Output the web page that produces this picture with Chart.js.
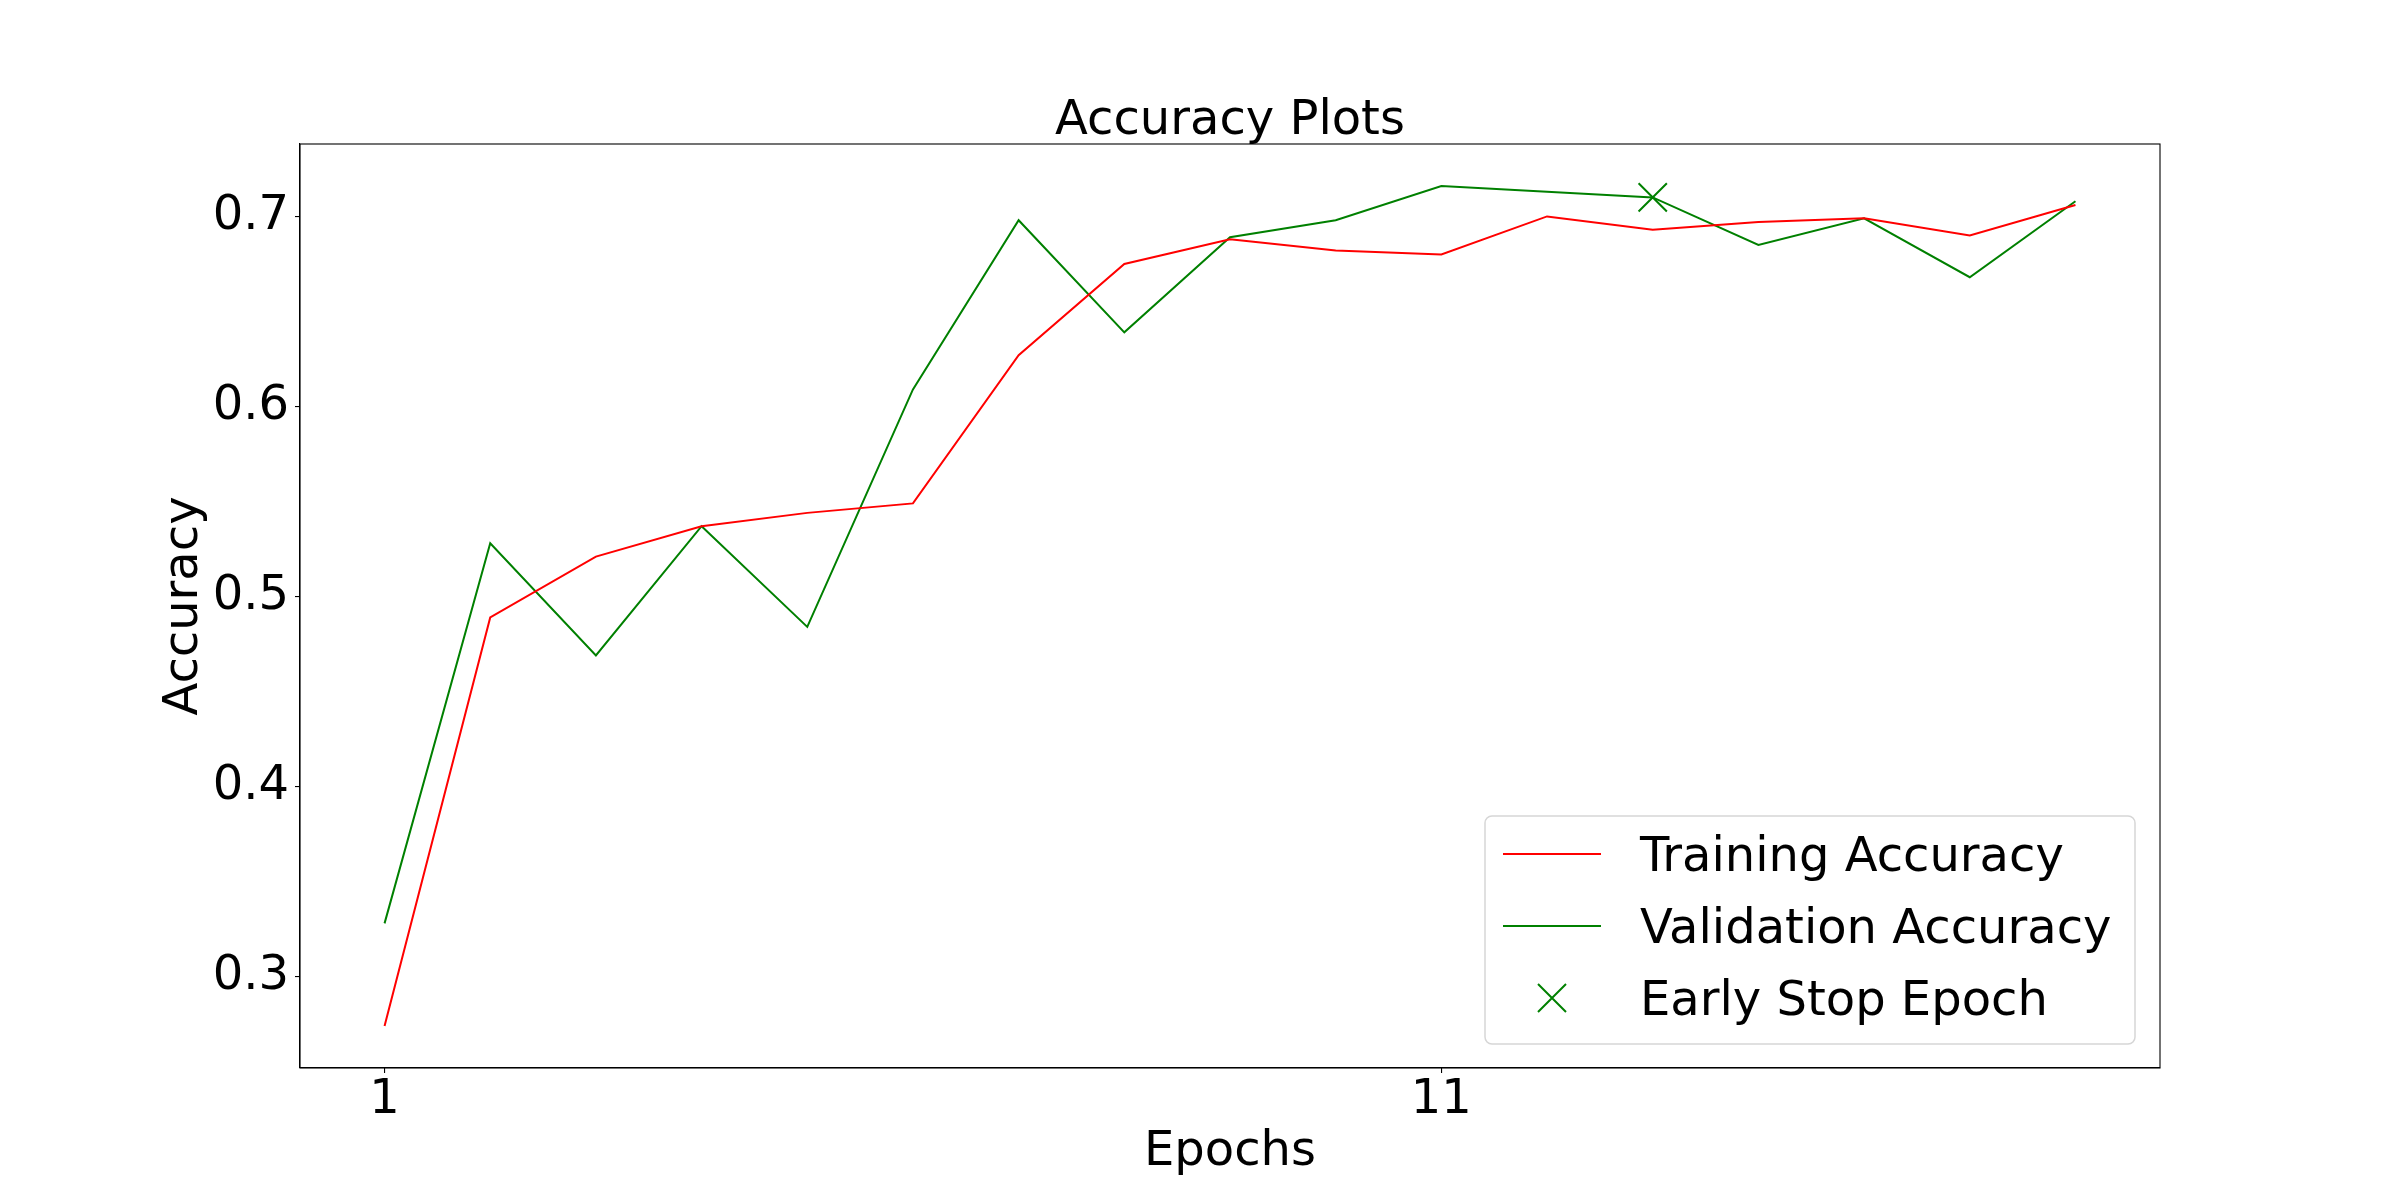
<!DOCTYPE html>
<html>
<head>
<meta charset="utf-8">
<script src="https://cdn.jsdelivr.net/npm/chart.js@4.4.0/dist/chart.umd.min.js"></script>
<style>
  html, body { margin: 0; padding: 0; background: #fff; }
  #wrap { width: 2400px; height: 1200px; }
</style>
</head>
<body>
<div id="wrap"><canvas id="accChart" width="2400" height="1200"></canvas></div>
<script>
// epochs and the two accuracy curves
const epochs = [1, 2, 3, 4, 5, 6, 7, 8, 9, 10, 11, 12, 13, 14, 15, 16, 17];
const trainAcc = [0.274, 0.489, 0.521, 0.537, 0.544, 0.549, 0.627, 0.675, 0.688, 0.682, 0.680, 0.700, 0.693, 0.697, 0.699, 0.690, 0.706];
const valAcc = [0.328, 0.528, 0.469, 0.537, 0.484, 0.609, 0.698, 0.639, 0.689, 0.698, 0.716, 0.713, 0.710, 0.685, 0.699, 0.668, 0.708];
const earlyStopEpoch = 13;
const xTicks = [1, 11];
const yTicks = [0.3, 0.4, 0.5, 0.6, 0.7];

const FONT = 'DejaVu Sans';
Chart.defaults.font.family = FONT;
Chart.defaults.color = '#000';

// matplotlib style 5% margins around the data
const allY = trainAcc.concat(valAcc);
const yLo = Math.min(...allY), yHi = Math.max(...allY);
const yPad = (yHi - yLo) * 0.05;
const xPad = (epochs[epochs.length - 1] - epochs[0]) * 0.05;

const toXY = arr => epochs.map((e, i) => ({ x: e, y: arr[i] }));
const stopIdx = epochs.indexOf(earlyStopEpoch);

// frame around the plot area
const framePlugin = {
  id: 'frame',
  afterDatasetsDraw(chart) {
    const { ctx, chartArea: a } = chart;
    ctx.save();
    ctx.strokeStyle = '#000';
    ctx.lineWidth = 1.1;
    ctx.strokeRect(a.left, a.top, a.right - a.left, a.bottom - a.top);
    ctx.restore();
  }
};

// legend box in the lower right corner, like matplotlib's
const boxLegend = {
  id: 'boxLegend',
  afterDraw(chart) {
    const { ctx, chartArea: a } = chart;
    const w = 650, h = 228;
    const x0 = a.right - 25 - w, y0 = a.bottom - 24 - h;
    ctx.save();
    ctx.beginPath();
    ctx.roundRect(x0, y0, w, h, 7);
    ctx.fillStyle = 'rgba(255,255,255,0.8)';
    ctx.fill();
    ctx.strokeStyle = '#d6d6d6';
    ctx.lineWidth = 1.5;
    ctx.stroke();
    ctx.font = '48px "' + FONT + '"';
    ctx.textBaseline = 'middle';
    ctx.fillStyle = '#000';
    chart.data.datasets.forEach((ds, i) => {
      const cy = y0 + 38 + i * 72;
      ctx.strokeStyle = ds.borderColor;
      ctx.lineWidth = 2;
      ctx.beginPath();
      if (ds.showLine === false) {
        const cx = x0 + 67, r = 14;
        ctx.moveTo(cx - r, cy - r); ctx.lineTo(cx + r, cy + r);
        ctx.moveTo(cx - r, cy + r); ctx.lineTo(cx + r, cy - r);
      } else {
        ctx.moveTo(x0 + 18, cy); ctx.lineTo(x0 + 116, cy);
      }
      ctx.stroke();
      ctx.fillText(ds.label, x0 + 155, cy + 5);
    });
    ctx.restore();
  }
};

new Chart(document.getElementById('accChart'), {
  type: 'line',
  data: {
    datasets: [
      {
        label: 'Training Accuracy',
        data: toXY(trainAcc),
        borderColor: '#ff0000',
        borderWidth: 2,
        pointRadius: 0,
        tension: 0
      },
      {
        label: 'Validation Accuracy',
        data: toXY(valAcc),
        borderColor: '#008000',
        borderWidth: 2,
        pointRadius: 0,
        tension: 0
      },
      {
        label: 'Early Stop Epoch',
        data: [{ x: earlyStopEpoch, y: valAcc[stopIdx] }],
        showLine: false,
        borderColor: '#008000',
        backgroundColor: '#008000',
        borderWidth: 2,
        pointStyle: 'crossRot',
        pointRadius: 20
      }
    ]
  },
  options: {
    responsive: false,
    animation: false,
    layout: { padding: { left: 0, right: 240, top: 0, bottom: 0 } },
    plugins: {
      legend: { display: false },
      tooltip: { enabled: false },
      title: {
        display: true,
        fullSize: false,
        text: 'Accuracy Plots',
        color: '#000',
        font: { size: 48, weight: 'normal', lineHeight: 1 },
        padding: { top: 98, bottom: -2 }
      }
    },
    scales: {
      x: {
        type: 'linear',
        min: epochs[0] - xPad,
        max: epochs[epochs.length - 1] + xPad,
        afterBuildTicks: s => { s.ticks = xTicks.map(v => ({ value: v })); },
        afterFit: s => { s.height = 132; },
        grid: { drawOnChartArea: false, drawTicks: true, tickLength: 5, color: '#000', lineWidth: 1.1 },
        border: { display: true, color: '#000', width: 1.1 },
        ticks: { font: { size: 48, lineHeight: 1 }, padding: 4, color: '#000', maxRotation: 0 },
        title: {
          display: true,
          text: 'Epochs',
          color: '#000',
          font: { size: 48, lineHeight: 1 },
          padding: { top: 0, bottom: 23 }
        }
      },
      y: {
        type: 'linear',
        min: yLo - yPad,
        max: yHi + yPad,
        afterBuildTicks: s => { s.ticks = yTicks.map(v => ({ value: v })); },
        afterFit: s => { s.width = 300; },
        grid: { drawOnChartArea: false, drawTicks: true, tickLength: 5, color: '#000', lineWidth: 1.1 },
        border: { display: true, color: '#000', width: 1.1 },
        ticks: { font: { size: 48 }, padding: 6, color: '#000', callback: v => v.toFixed(1) },
        title: {
          display: true,
          text: 'Accuracy',
          color: '#000',
          font: { size: 48, lineHeight: 1 },
          padding: { top: 161, bottom: 0 }
        }
      }
    }
  },
  plugins: [framePlugin, boxLegend]
});
</script>
</body>
</html>
